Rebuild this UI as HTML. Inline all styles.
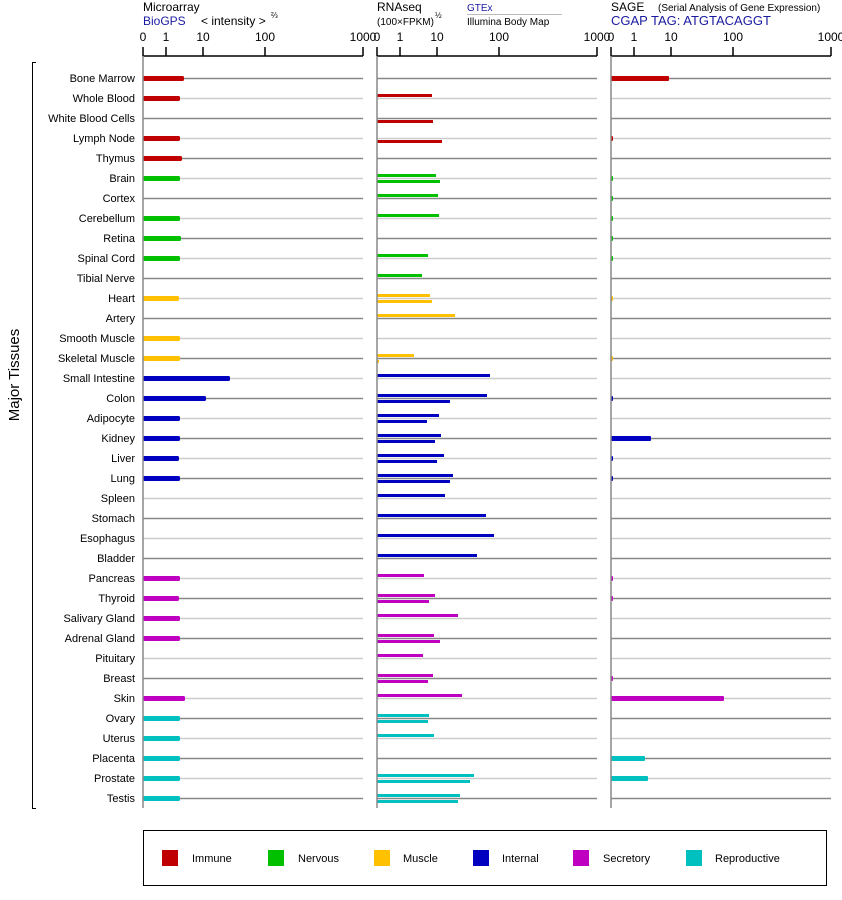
<!DOCTYPE html>
<html><head><meta charset="utf-8"><style>
body{margin:0;background:#fff;width:842px;height:900px;overflow:hidden}
svg{display:block;font-family:"Liberation Sans",sans-serif}
</style></head><body>
<svg id="s" width="842" height="900" xmlns="http://www.w3.org/2000/svg">
<text x="143" y="11" font-size="12">Microarray</text>
<text x="143" y="25" font-size="12" fill="#1a1aa0">BioGPS</text>
<text x="201" y="25" font-size="12">&lt; intensity &gt;</text>
<text x="271" y="18" font-size="8">⅔</text>
<text x="377" y="11" font-size="12">RNAseq</text>
<text x="377" y="25" font-size="10">(100×FPKM)</text>
<text x="435" y="18" font-size="8">½</text>
<text x="467" y="11" font-size="10" fill="#1a1aa0">GTEx</text>
<line x1="467" y1="14.5" x2="562" y2="14.5" stroke="#bbb"/>
<text x="467" y="25" font-size="10">Illumina Body Map</text>
<text x="611" y="11" font-size="12">SAGE</text>
<text x="658" y="11" font-size="10">(Serial Analysis of Gene Expression)</text>
<text x="611" y="25" font-size="13" fill="#1a1aa0">CGAP TAG: ATGTACAGGT</text>
<text transform="translate(19,375) rotate(-90)" text-anchor="middle" font-size="15">Major Tissues</text>
<path d="M36,62.5 H32.5 V808.5 H36" fill="none" stroke="#000"/>
<rect x="143.5" y="830.5" width="683" height="55" fill="none" stroke="#000"/>
<g id="g"></g>
</svg>
<script>
var g=document.getElementById('g'),h='';
var C={I:'#c00000',N:'#00c000',M:'#ffc000',T:'#0000c0',S:'#c000c0',R:'#00c0c0'};
var panels=[143,377,611];
var tk=[0,23,60,122,220];
panels.forEach(function(p){
 h+='<line x1="'+p+'" y1="56" x2="'+(p+220)+'" y2="56" stroke="#000" stroke-width="1.5"/>';
 ['0','1','10','100','1000'].forEach(function(l,i){var x=p+tk[i];
  h+='<line x1="'+x+'" y1="47" x2="'+x+'" y2="56" stroke="#000" stroke-width="1.5"/>';
  h+='<text x="'+x+'" y="41" font-size="12" text-anchor="middle">'+l+'</text>';});
});
var R=[
['Bone Marrow','I',184,0,0,669],['Whole Blood','I',180,432,0,0],['White Blood Cells','I',0,0,433,0],
['Lymph Node','I',180,0,442,613],['Thymus','I',182,0,0,0],['Brain','N',180,436,440,613],
['Cortex','N',0,438,0,613],['Cerebellum','N',180,439,0,613],['Retina','N',181,0,0,613],
['Spinal Cord','N',180,428,0,613],['Tibial Nerve','N',0,422,0,0],['Heart','M',179,430,432,613],
['Artery','M',0,455,0,0],['Smooth Muscle','M',180,0,0,0],['Skeletal Muscle','M',180,414,379,613],
['Small Intestine','T',230,490,0,0],['Colon','T',206,487,450,613],['Adipocyte','T',180,439,427,0],
['Kidney','T',180,441,435,651],['Liver','T',179,444,437,613],['Lung','T',180,453,450,613],
['Spleen','T',0,445,0,0],['Stomach','T',0,486,0,0],['Esophagus','T',0,494,0,0],['Bladder','T',0,477,0,0],
['Pancreas','S',180,424,0,613],['Thyroid','S',179,435,429,613],['Salivary Gland','S',180,458,0,0],
['Adrenal Gland','S',180,434,440,0],['Pituitary','S',0,423,0,0],['Breast','S',0,433,428,613],
['Skin','S',185,462,0,724],['Ovary','R',180,429,428,0],['Uterus','R',180,434,0,0],
['Placenta','R',180,0,0,645],['Prostate','R',180,474,470,648],['Testis','R',180,460,458,0]];
R.forEach(function(r,i){var y=78+20*i,col=C[r[1]],lc=i%2?'#ccc':'#888';
 h+='<text x="135" y="'+(y+4)+'" font-size="11" text-anchor="end">'+r[0]+'</text>';
 panels.forEach(function(p){h+='<line x1="'+p+'" y1="'+(y+.5)+'" x2="'+(p+220)+'" y2="'+(y+.5)+'" stroke="'+lc+'" stroke-width="1.5"/>';});
 if(r[2])h+='<rect x="143" y="'+(y-2)+'" width="'+(r[2]-143)+'" height="5" rx="1.5" fill="'+col+'"/>';
 if(r[3])h+='<rect x="377" y="'+(y-4)+'" width="'+(r[3]-377)+'" height="3" fill="'+col+'"/>';
 if(r[4])h+='<rect x="377" y="'+(y+2)+'" width="'+(r[4]-377)+'" height="3" fill="'+col+'"/>';
 if(r[5])h+='<rect x="611" y="'+(y-2)+'" width="'+(r[5]-611)+'" height="5" rx="1" fill="'+col+'"/>';
});
panels.forEach(function(p){h+='<line x1="'+p+'" y1="56" x2="'+p+'" y2="808" stroke="#888" stroke-width="1.5"/>';});
[['Immune','I',162,192],['Nervous','N',268,298],['Muscle','M',374,403],['Internal','T',473,502],['Secretory','S',573,603],['Reproductive','R',686,715]].forEach(function(l){
 h+='<rect x="'+l[2]+'" y="850" width="16" height="16" fill="'+C[l[1]]+'"/>';
 h+='<text x="'+l[3]+'" y="862" font-size="11">'+l[0]+'</text>';});
g.innerHTML=h;
</script>
</body></html>
